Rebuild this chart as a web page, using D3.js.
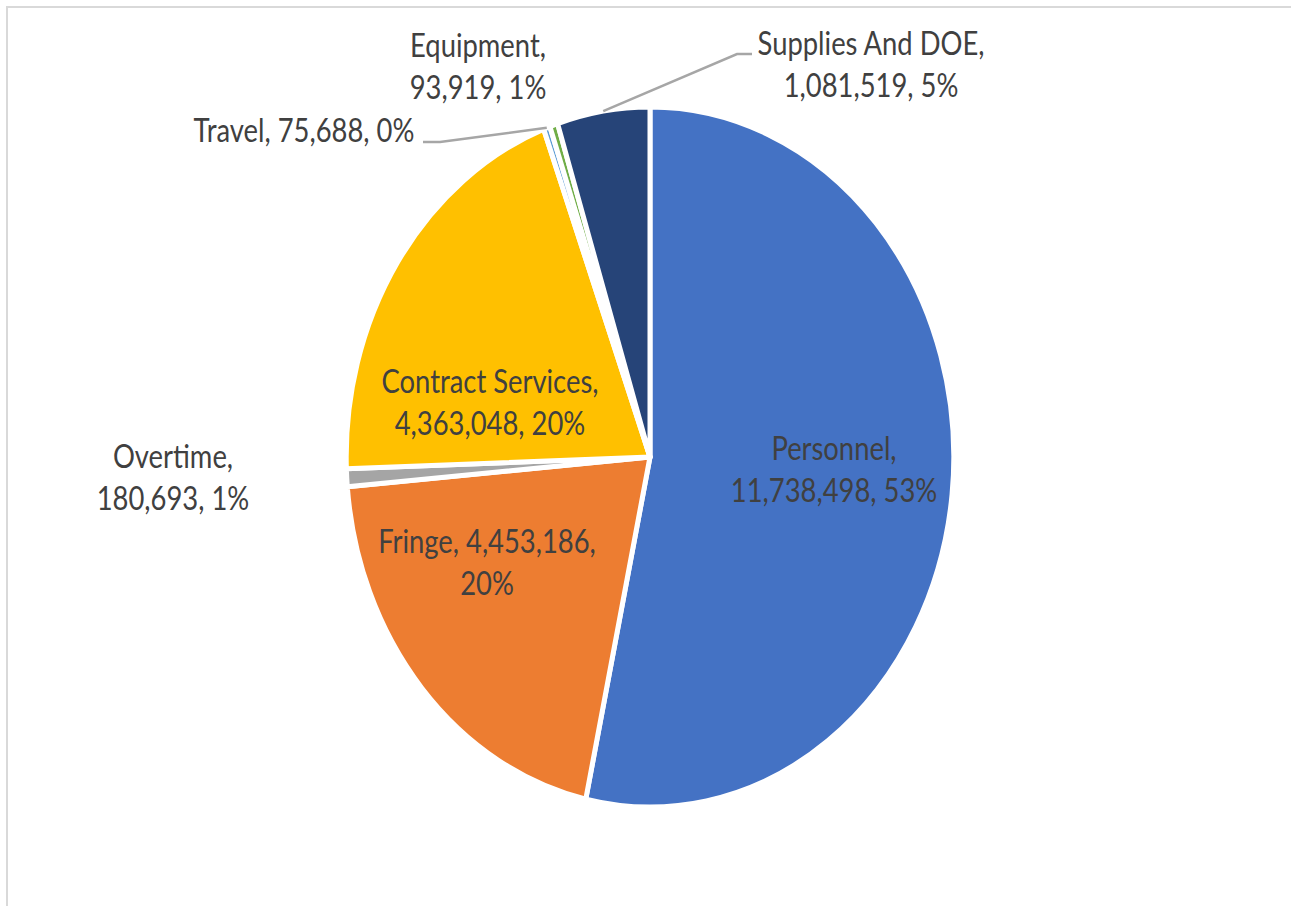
<!DOCTYPE html>
<html>
<head>
<meta charset="utf-8">
<script src="https://cdn.jsdelivr.net/npm/d3@7"></script>
<style>
body { margin: 0; background: #fff; }
text { font-family: Lato, "Open Sans", sans-serif; fill: #404040; }
</style>
</head>
<body>
<div id="chart"></div>
<script>
// budget categories, clockwise from 12 o'clock
const categories = ["Personnel", "Fringe", "Overtime", "Contract Services", "Travel", "Equipment", "Supplies And DOE"];
const amounts = [11738498, 4453186, 180693, 4363048, 75688, 93919, 1081519];
const percents = [53, 20, 1, 20, 0, 1, 5];
const colors = ["#4472C4", "#ED7D31", "#A5A5A5", "#FFC000", "#5B9BD5", "#70AD47", "#264478"];

const width = 1291, height = 906;
const cx = 650, cy = 457, radius = 350, squash = 0.868;
const textSquash = 0.83;

// where each label sits (centre x, first baseline) and after which part the line breaks
const labelPos = [
    {x: 834, y: 460, brk: 1},
    {x: 487, y: 553, brk: 2},
    {x: 173, y: 468, brk: 1},
    {x: 490, y: 393, brk: 1},
    {x: 304, y: 142, brk: 3},
    {x: 478, y: 57,  brk: 1},
    {x: 871, y: 55,  brk: 1}
];

const svg = d3.select("#chart").append("svg")
    .attr("width", width).attr("height", height);

svg.append("rect")
    .attr("x", 7).attr("y", 7)
    .attr("width", width + 20).attr("height", height + 20)
    .attr("fill", "none").attr("stroke", "#d9d9d9").attr("stroke-width", 2);

const pie = d3.pie().sort(null).value(d => d);
const arcs = pie(amounts);
const arc = d3.arc().innerRadius(0).outerRadius(radius);

const g = svg.append("g")
    .attr("transform", `translate(${cx},${cy}) scale(${squash},1)`);

g.selectAll("path")
    .data(arcs)
    .enter().append("path")
    .attr("d", arc)
    .attr("fill", (d, i) => colors[i])
    .attr("stroke", "#fff")
    .attr("stroke-width", 5)
    .attr("stroke-linejoin", "round")
    .attr("vector-effect", "non-scaling-stroke");

function edgePoint(a, r){
    return [cx + squash * r * Math.sin(a), cy - r * Math.cos(a)];
}

// leader lines for the thin slices on top
const leaders = [
    {i: 4, bend: [440, 142], end: [423, 142]},
    {i: 6, bend: [737, 54], end: [752, 54]}
];
leaders.forEach(l => {
    const d = arcs[l.i];
    const p = edgePoint((d.startAngle + d.endAngle) / 2, radius);
    svg.append("polyline")
        .attr("points", [p, l.bend, l.end].map(q => q.join(",")).join(" "))
        .attr("fill", "none").attr("stroke", "#a6a6a6").attr("stroke-width", 2.5);
});

const fmt = d3.format(",");
categories.forEach((name, i) => {
    const parts = [name + ",", fmt(amounts[i]) + ",", percents[i] + "%"];
    const pos = labelPos[i];
    const lines = [parts.slice(0, pos.brk).join(" "), parts.slice(pos.brk).join(" ")].filter(s => s);
    const t = svg.append("text")
        .attr("transform", `translate(${pos.x},${pos.y}) scale(${textSquash},1)`)
        .attr("text-anchor", "middle")
        .attr("font-size", 33);
    lines.forEach((s, k) => {
        t.append("tspan").attr("x", 0).attr("y", k * 42).text(s);
    });
});
</script>
</body>
</html>
